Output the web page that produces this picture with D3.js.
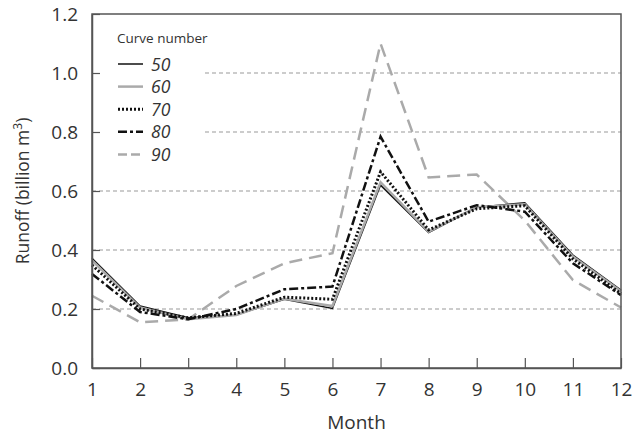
<!DOCTYPE html>
<html><head><meta charset="utf-8">
<script src="https://cdn.jsdelivr.net/npm/d3@7"></script>
<style>
body{margin:0;background:#fff;}
text{font-family:"Open Sans","Noto Sans",sans-serif;fill:#333;}
</style></head>
<body><svg id="c" width="633" height="434"></svg>
<script>
const months = [1,2,3,4,5,6,7,8,9,10,11,12];
const curveNumbers = ["50","60","70","80","90"];
const cn50 = [0.372,0.210,0.170,0.180,0.233,0.202,0.620,0.459,0.545,0.560,0.383,0.264];
const cn60 = [0.365,0.205,0.165,0.180,0.235,0.210,0.630,0.462,0.545,0.555,0.378,0.260];
const cn70 = [0.349,0.200,0.170,0.185,0.240,0.233,0.665,0.468,0.540,0.550,0.370,0.252];
const cn80 = [0.319,0.190,0.165,0.200,0.267,0.276,0.784,0.496,0.552,0.530,0.355,0.247];
const cn90 = [0.245,0.155,0.165,0.278,0.355,0.389,1.100,0.646,0.656,0.500,0.298,0.205];
const yTicks = [0,0.2,0.4,0.6,0.8,1.0,1.2];

const series = [
  {name:"90", values:cn90, color:"#aaaaaa", width:2.5, dash:"13,7"},
  {name:"50", values:cn50, color:"#111", width:1.5, dash:null},
  {name:"60", values:cn60, color:"#aaaaaa", width:2.5, dash:null},
  {name:"70", values:cn70, color:"#111", width:3, dash:"2,2"},
  {name:"80", values:cn80, color:"#111", width:2.5, dash:"9,3,3,3"}
];

const svg = d3.select("#c");
const L=92, R=621, T=14, B=368;
const x = d3.scaleLinear().domain([1,12]).range([L,R]);
const y = d3.scaleLinear().domain([0,1.2]).range([B,T]);

// gridlines
const legendRight = 205, legendBottom = 165;
svg.append("g").selectAll("line").data(yTicks.filter(d=>d>0 && d<1.2)).join("line")
  .attr("x1",d=> y(d) < legendBottom ? legendRight : L)
  .attr("x2",R).attr("y1",d=>y(d)).attr("y2",d=>y(d))
  .attr("stroke","#999").attr("stroke-width",1).attr("stroke-dasharray","4,3");

// lines
const line = d3.line().x((d,i)=>x(months[i])).y(d=>y(d));
svg.append("g").selectAll("path").data(series).join("path")
  .attr("d",d=>line(d.values)).attr("fill","none")
  .attr("stroke",d=>d.color).attr("stroke-width",d=>d.width)
  .attr("stroke-dasharray",d=>d.dash).attr("stroke-linejoin","miter");

// frame
svg.append("rect").attr("x",L).attr("y",T).attr("width",R-L).attr("height",B-T)
  .attr("fill","none").attr("stroke","#555").attr("stroke-width",1.5);

// axes
const yAxis = d3.axisLeft(y).tickValues(yTicks).tickFormat(d3.format(".1f")).tickSizeInner(-8).tickSizeOuter(0).tickPadding(14);
const gy = svg.append("g").attr("transform",`translate(${L},0)`).call(yAxis);
const xAxis = d3.axisBottom(x).tickValues(months).tickFormat(d3.format("d")).tickSizeInner(-10).tickSizeOuter(0).tickPadding(15);
const gx = svg.append("g").attr("transform",`translate(0,${B})`).call(xAxis);
[gy,gx].forEach(g=>{
  g.select(".domain").attr("stroke","#555").attr("stroke-width",1.5);
  g.selectAll(".tick line").attr("stroke","#555").attr("stroke-width",1.2);
  g.selectAll(".tick text").style("font-size","19px").attr("fill","#333").style("font-family",'"Open Sans",sans-serif');
});

// axis titles
svg.append("text").attr("x",(L+R)/2).attr("y",429).attr("text-anchor","middle").style("font-size","19px").text("Month");
const yt = svg.append("text").attr("transform",`translate(29,${(T+B)/2}) rotate(-90)`).attr("text-anchor","middle").style("font-size","17.5px");
yt.append("tspan").text("Runoff (billion m");
yt.append("tspan").attr("dy",-7).style("font-size","12px").text("3");
yt.append("tspan").attr("dy",7).text(")");

// legend
const lg = svg.append("g");
lg.append("text").attr("x",117).attr("y",43).style("font-size","13.5px").style("font-family",'"Liberation Sans Narrow","Open Sans",sans-serif').text("Curve number");
const order = ["50","60","70","80","90"];
order.forEach((n,i)=>{
  const s = series.find(d=>d.name===n);
  const yy = 64 + i*22.6;
  lg.append("line").attr("x1",118).attr("x2",143).attr("y1",yy).attr("y2",yy)
    .attr("stroke",s.color).attr("stroke-width",s.width).attr("stroke-dasharray",s.dash ? (n==="90"?"9,4":s.dash) : null);
  lg.append("text").attr("x",151).attr("y",yy+6.5).style("font-size","17.5px").style("font-style","italic").text(n);
});
</script></body></html>
